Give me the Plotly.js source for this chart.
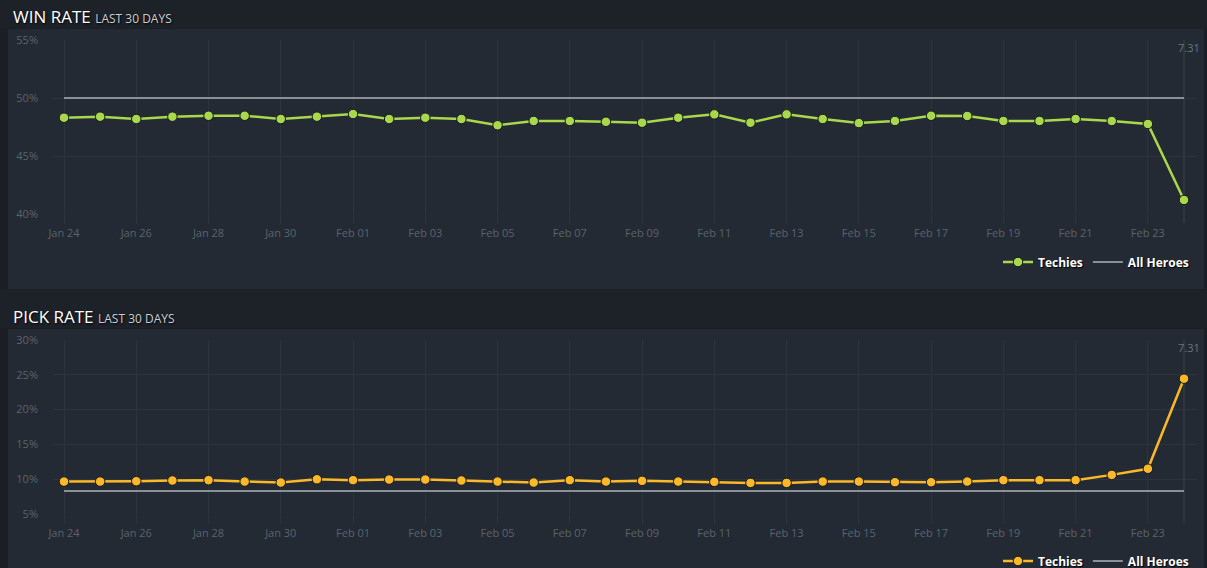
<!DOCTYPE html>
<html><head><meta charset="utf-8">
<script src="https://cdn.plot.ly/plotly-3.0.1.min.js"></script>
<style>html,body{margin:0;padding:0;background:#1b1f25;overflow:hidden;height:568px}#chart{width:1207px;height:584px}</style>
</head><body><div id="chart"></div>
<script>
const dates = ['2022-01-24','2022-01-25','2022-01-26','2022-01-27','2022-01-28','2022-01-29','2022-01-30','2022-01-31',
  '2022-02-01','2022-02-02','2022-02-03','2022-02-04','2022-02-05','2022-02-06','2022-02-07','2022-02-08',
  '2022-02-09','2022-02-10','2022-02-11','2022-02-12','2022-02-13','2022-02-14','2022-02-15','2022-02-16',
  '2022-02-17','2022-02-18','2022-02-19','2022-02-20','2022-02-21','2022-02-22','2022-02-23','2022-02-24'];
const techiesWin = [48.30,48.39,48.19,48.39,48.47,48.47,48.19,48.39,48.62,48.19,48.30,48.19,47.65,48.02,48.02,47.95,
  47.87,48.30,48.59,47.87,48.59,48.19,47.84,48.02,48.47,48.45,48.02,48.02,48.19,48.02,47.76,41.21];
const allWin = [50,50,50,50,50,50,50,50,50,50,50,50,50,50,50,50,50,50,50,50,50,50,50,50,50,50,50,50,50,50,50,50];
const techiesPick = [9.66,9.66,9.71,9.81,9.86,9.66,9.52,9.99,9.86,9.95,9.95,9.81,9.66,9.52,9.86,9.66,
  9.76,9.66,9.62,9.47,9.47,9.66,9.66,9.57,9.57,9.66,9.86,9.86,9.86,10.62,11.5,24.44];
const allPick = [8.3,8.3,8.3,8.3,8.3,8.3,8.3,8.3,8.3,8.3,8.3,8.3,8.3,8.3,8.3,8.3,8.3,8.3,8.3,8.3,8.3,8.3,8.3,8.3,8.3,8.3,8.3,8.3,8.3,8.3,8.3,8.3];
const winTicks = [40,45,50,55];
const pickTicks = [5,10,15,20,25,30];
const patchDate = '2022-02-24';
const patchLabel = '7.31';
const seriesNames = ['Techies','All Heroes'];

// figure is a bit taller than the window so the bottom legend is clipped like the original
const W = 1207, H = 584;
const X = p => p / W, Y = p => 1 - p / H;
const gridC = '#2d343d', tickC = '#5b636c';
const FONT = 'Open Sans, sans-serif';

const markerStyle = c => ({size: 9.5, color: c, line: {color: '#161a1f', width: 1}});
const traces = [
  {x: dates, y: techiesWin, name: seriesNames[0], mode: 'lines+markers', xaxis: 'x', yaxis: 'y',
   line: {color: '#a9d84c', width: 2.5}, marker: markerStyle('#a9d84c'), legend: 'legend'},
  {x: dates, y: allWin, name: seriesNames[1], mode: 'lines', xaxis: 'x', yaxis: 'y',
   line: {color: '#8b9096', width: 2}, legend: 'legend'},
  {x: dates, y: techiesPick, name: seriesNames[0], mode: 'lines+markers', xaxis: 'x2', yaxis: 'y2',
   line: {color: '#fbb829', width: 2.5}, marker: markerStyle('#fbb829'), legend: 'legend2'},
  {x: dates, y: allPick, name: seriesNames[1], mode: 'lines', xaxis: 'x2', yaxis: 'y2',
   line: {color: '#8b9096', width: 2}, legend: 'legend2'}
];

const xRange = ['2022-01-23 16:41', '2022-02-24 08:38'];
const xAxis = (anchor) => ({
  type: 'date', range: xRange, domain: [X(53), X(1197)], anchor: anchor,
  tick0: '2022-01-24', dtick: 2 * 86400000, tickformat: '%b %d',
  showgrid: true, gridcolor: gridC, gridwidth: 1, zeroline: false, showline: false,
  ticks: 'outside', ticklen: 9, tickcolor: gridC,
  tickfont: {family: FONT, size: 11, color: tickC}, fixedrange: true
});
const yAxis = (anchor, range, dom, vals) => ({
  range: range, domain: dom, anchor: anchor, tickvals: vals, ticktext: vals.map(v => v + '%'),
  showgrid: true, gridcolor: gridC, gridwidth: 1, zeroline: false, showline: false,
  ticks: '', ticklabelstandoff: 14,
  tickfont: {family: FONT, size: 11, color: tickC}, fixedrange: true
});

const panelC = '#232a33';
const headerText = (t) => '<span style="font-size:17px;color:#ffffff">' + t + '</span> <span style="font-size:12px;color:#c9ced4">LAST 30 DAYS</span>';
const legendFont = {family: FONT, size: 12, color: '#ffffff', weight: 'bold', shadow: '1px 1px 1px #000'};

const layout = {
  width: W, height: H, margin: {l: 0, r: 0, t: 0, b: 0},
  paper_bgcolor: '#1b1f25', plot_bgcolor: 'rgba(0,0,0,0)',
  showlegend: true,
  xaxis: xAxis('y'), yaxis: yAxis('x', [40, 55], [Y(214), Y(40)], winTicks),
  xaxis2: xAxis('y2'), yaxis2: yAxis('x2', [5, 30], [Y(514), Y(340)], pickTicks),
  legend: {orientation: 'h', x: X(1194), xanchor: 'right', y: Y(262), yanchor: 'middle',
    bgcolor: 'rgba(0,0,0,0)', font: legendFont, itemwidth: 30, tracegroupgap: 0},
  legend2: {orientation: 'h', x: X(1194), xanchor: 'right', y: Y(561), yanchor: 'middle',
    bgcolor: 'rgba(0,0,0,0)', font: legendFont, itemwidth: 30, tracegroupgap: 0},
  shapes: [
    {type: 'rect', xref: 'paper', yref: 'paper', x0: 0, x1: 1, y0: Y(28), y1: 1, fillcolor: '#1d2229', line: {width: 0}, layer: 'below'},
    {type: 'rect', xref: 'paper', yref: 'paper', x0: 0, x1: 1, y0: Y(328), y1: Y(290), fillcolor: '#1d2229', line: {width: 0}, layer: 'below'},
    {type: 'rect', xref: 'paper', yref: 'paper', x0: X(8), x1: X(1204), y0: Y(289), y1: Y(29), fillcolor: panelC, line: {width: 0}, layer: 'below'},
    {type: 'rect', xref: 'paper', yref: 'paper', x0: X(8), x1: X(1204), y0: 0, y1: Y(329), fillcolor: panelC, line: {width: 0}, layer: 'below'},
    {type: 'line', xref: 'x', yref: 'paper', x0: patchDate, x1: patchDate, y0: Y(223), y1: Y(40), line: {color: '#3a424c', width: 1}, layer: 'below'},
    {type: 'line', xref: 'x2', yref: 'paper', x0: patchDate, x1: patchDate, y0: Y(523), y1: Y(340), line: {color: '#3a424c', width: 1}, layer: 'below'}
  ],
  annotations: [
    {xref: 'paper', yref: 'paper', x: X(11), y: Y(17), xanchor: 'left', yanchor: 'middle', showarrow: false,
     text: headerText('WIN RATE'), font: {family: FONT, size: 17, color: '#fff', shadow: '1px 1px 2px #000'}},
    {xref: 'paper', yref: 'paper', x: X(11), y: Y(316), xanchor: 'left', yanchor: 'middle', showarrow: false,
     text: headerText('PICK RATE'), font: {family: FONT, size: 17, color: '#fff', shadow: '1px 1px 2px #000'}},
    {xref: 'paper', yref: 'paper', x: X(1202), y: Y(47), xanchor: 'right', yanchor: 'middle', showarrow: false,
     text: patchLabel, font: {family: FONT, size: 11, color: '#6b747d'}},
    {xref: 'paper', yref: 'paper', x: X(1202), y: Y(347), xanchor: 'right', yanchor: 'middle', showarrow: false,
     text: patchLabel, font: {family: FONT, size: 11, color: '#6b747d'}}
  ]
};
Plotly.newPlot('chart', traces, layout, {displayModeBar: false, staticPlot: true});
</script></body></html>
